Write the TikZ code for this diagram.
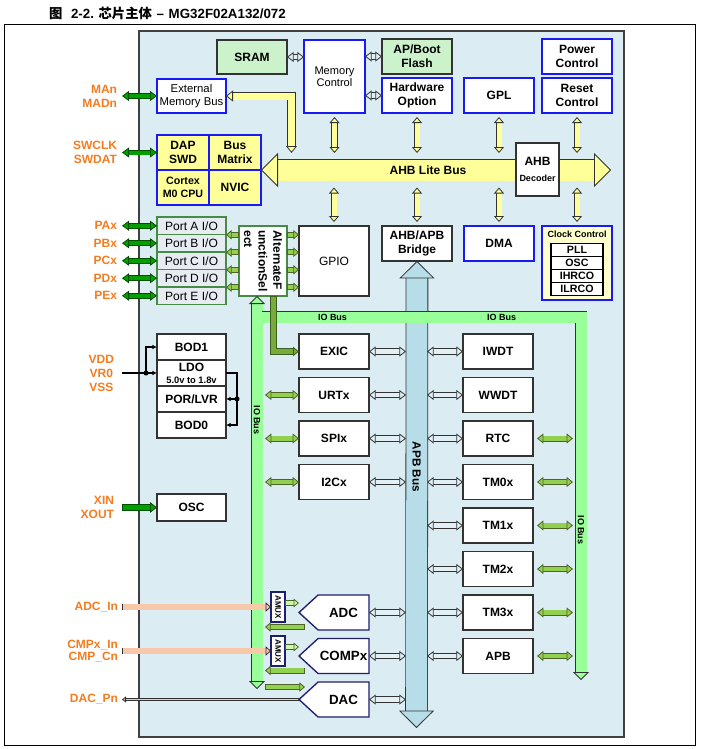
\documentclass[tikz,border=0pt]{standalone}
\usepackage{fontspec}
\setmainfont{Liberation Sans}
\newfontfamily\cjk{Noto Sans CJK SC}
\usepackage{tikz}
\usetikzlibrary{positioning, arrows.meta, calc, shapes.symbols}
\definecolor{bgblue}{RGB}{219,237,243}
\definecolor{bxblue}{RGB}{25,25,245}
\definecolor{memgrn}{RGB}{204,242,204}
\definecolor{ahbyel}{RGB}{255,255,153}
\definecolor{iogrn}{RGB}{153,255,153}
\definecolor{olv}{RGB}{146,208,80}
\definecolor{olvdk}{RGB}{79,98,40}
\definecolor{apbblue}{RGB}{183,221,232}
\definecolor{pinorg}{RGB}{244,124,32}
\definecolor{pingrn}{RGB}{0,160,0}
\definecolor{pingrndk}{RGB}{0,80,0}
\definecolor{portfill}{RGB}{230,236,242}
\definecolor{portgrn}{RGB}{70,140,70}
\definecolor{anavy}{RGB}{30,30,110}
\definecolor{salmon}{RGB}{248,200,170}
\definecolor{clkyel}{RGB}{255,255,204}
\definecolor{holfill}{RGB}{226,240,246}
\definecolor{lnk}{RGB}{50,50,50}
\definecolor{lgn}{RGB}{200,250,170}
\definecolor{exicgrn}{RGB}{120,170,60}
\definecolor{exicdk}{RGB}{60,95,30}

\begin{document}
\begin{tikzpicture}[x=0.75pt, y=-0.75pt,
    every node/.style={inner sep=0pt, outer sep=0pt},
    node distance=6.375pt,
    box/.style={draw=black!80, line width=0.9pt, fill=white, align=center, minimum width=52.5pt, minimum height=26.25pt, font=\fontsize{9}{10.5}\selectfont\bfseries},
    bbox/.style={box, draw=bxblue, line width=1.1pt},
    gbox/.style={box, fill=memgrn},
    ybox/.style={bbox, fill=ahbyel, minimum width=39pt, font=\fontsize{9}{11}\selectfont\bfseries},
    port/.style={box, draw=portgrn, fill=portfill, minimum width=51.75pt, minimum height=13.125pt, font=\fontsize{9}{10}\selectfont},
    pwrbox/.style={box, minimum width=51.75pt, minimum height=19.5pt},
    clkrow/.style={box, draw=black, line width=0.8pt, minimum width=39pt, minimum height=9.75pt, font=\fontsize{8}{9}\selectfont\bfseries},
    anlg/.style={box, draw=anavy, line width=1pt, signal, signal to=west, signal pointer angle=85, font=\fontsize{10}{12}\selectfont\bfseries},
    amux/.style={draw=anavy, line width=0.8pt, fill=white, minimum width=10.5pt, minimum height=22.5pt},
    pin/.style={text=pinorg, align=right, font=\fontsize{9}{10.5}\selectfont\bfseries},
    busfont/.style={font=\fontsize{6.75}{8}\selectfont\bfseries},
    pwr/.style={draw=black, line width=1pt, -{Latex[length=3.5pt, width=3.5pt]}},
    fatd/.style args={#1/#2/#3/#4/#5}{draw=#1, line width=#3, line join=miter,
      arrows={Triangle[length=#4, width=#5, line width=0.6pt, color=#2, fill=#1]-Triangle[length=#4, width=#5, line width=0.6pt, color=#2, fill=#1]},
      preaction={draw=#2, line width=#3+1.2pt, arrows=-, shorten <=#4-0.8pt, shorten >=#4-0.8pt}},
    fats/.style args={#1/#2/#3/#4/#5}{draw=#1, line width=#3, line join=miter, shorten <=0.6pt,
      arrows={-Triangle[length=#4, width=#5, line width=0.6pt, color=#2, fill=#1]},
      preaction={draw=#2, line width=#3+1.2pt, arrows=-, shorten <=0pt, shorten >=#4-0.8pt}},
    yarr/.style={fatd=ahbyel/lnk/3.75pt/4.5pt/7.5pt},
    harr/.style={fatd=holfill/lnk/3.6pt/5pt/7.5pt},
    parr/.style={fatd=pingrn/pingrndk/3pt/5.25pt/7.5pt},
    parr1/.style={fats=pingrn/pingrndk/3.75pt/5.25pt/8pt},
    oarr/.style={fatd=olv/olvdk/3.3pt/4.8pt/7.5pt},
    oarr1/.style={fats=olv/olvdk/3.3pt/4.2pt/7pt},
    larr/.style={fats=lgn/olvdk/3.3pt/4pt/6.5pt},
    sarr/.style={fats=salmon/lnk/3.9pt/4pt/7pt},
    sarrthin/.style={fats=salmon/lnk/1.2pt/3pt/4.5pt},
    xarr/.style={fats=exicgrn/exicdk/3.75pt/4.5pt/7pt},
    emarr/.style={fatd=ahbyel/lnk/5.25pt/5.25pt/8.25pt},
    iobus/.style={fatd=iogrn/lnk/8.25pt/6pt/12pt},
    iobus1/.style={fats=iogrn/lnk/8.25pt/6pt/12pt},
    ahbbus/.style={fatd=ahbyel/lnk/15.75pt/12.75pt/25.5pt},
    apbbus/.style={fatd=apbblue/lnk/15.75pt/13pt/26.25pt},
  ]
  \useasboundingbox (0,0) rectangle (700,749);

  \node[anchor=west, font=\fontsize{10}{12}\selectfont\bfseries] (ttl) at (49,13)
    {{\cjk 图}\hspace{6.5pt}2-2.\hspace{3.5pt}{\cjk 芯片主体}\hspace{3.5pt}–\hspace{3.5pt}MG32F02A132/072};

  \draw[line width=0.75pt] (4,25) rectangle (695,745);
  \draw[fill=bgblue, draw=black!75, line width=0.9pt] (139,31) rectangle (624,737);

  % top row
  \node[gbox, minimum height=25.5pt] (sram) at (252,57) {SRAM};
  \node[bbox, minimum width=45.75pt, minimum height=54.75pt, font=\fontsize{8.3}{8.8}\selectfont] (memctl) at (334.5,76.5) {Memory\\Control};
  \node[gbox] (flash) at (417,56.5) {AP/Boot\\Flash};
  \node[bbox] (hwopt) at (417,95.5) {Hardware\\Option};
  \node[bbox] (gpl) at (499,95.5) {GPL};
  \node[bbox] (pwrctl) at (577,56.5) {Power\\Control};
  \node[bbox] (rstctl) at (577,95.5) {Reset\\Control};
  \node[bbox, minimum width=51.75pt, minimum height=25.5pt, font=\fontsize{8.5}{9.5}\selectfont] (extmem) at (191.5,96) {External\\Memory Bus};

  \node[ybox] (dap) at (183,152.5) {DAP\\SWD};
  \node[ybox, right=0pt of dap] (bmx) {Bus\\Matrix};
  \node[ybox, below=0pt of dap, font=\fontsize{8}{10}\selectfont\bfseries] (m0) {Cortex\\M0 CPU};
  \node[ybox, below=0pt of bmx] (nvic) {NVIC};

  % AHB lite bus
  \coordinate (ahbend) at (611,170);
  \coordinate (ahbN) at (0,153);
  \coordinate (ahbS) at (0,187.5);
  \draw[ahbbus] (bmx.south east) -- (ahbend);
  \node[font=\fontsize{9}{10.5}\selectfont\bfseries] (ahblbl) at (428,170) {AHB Lite Bus};
  \node[box, minimum width=32.25pt, minimum height=39.75pt] (ahbdec) at (537.5,169.5) {AHB\\[1pt]\fontsize{6.75}{8}\selectfont Decoder};

  % second row
  \node[box, minimum height=52.5pt, font=\fontsize{9}{10.5}\selectfont] (gpio) at (334,261) {GPIO};
  \node[box] (bridge) at (417,243.5) {AHB/APB\\Bridge};
  \node[bbox] (dma) at (499,243.5) {DMA};
  \node[bbox, fill=clkyel, minimum height=55.5pt] (clk) at (577,263) {};
  \node[font=\fontsize{6.75}{8}\selectfont\bfseries] (clkttl) at (577,234.5) {Clock Control};
  \node[clkrow] (pll) at (577,249.75) {PLL};
  \node[clkrow, below=0pt of pll] (cosc) {OSC};
  \node[clkrow, below=0pt of cosc] (ihrco) {IHRCO};
  \node[clkrow, below=0pt of ihrco] (ilrco) {ILRCO};

  \foreach \b in {memctl, hwopt, gpl, rstctl}
    \draw[yarr] ([yshift=-3pt]\b.south) -- (\b.south |- ahbN);
  \foreach \b in {gpio, bridge, dma, clk}
    \draw[yarr] (\b.north |- ahbS) -- ([yshift=3pt]\b.north);
  \coordinate (emx) at (291.5,0);
  \draw[emarr] (extmem.east) -- (extmem.east -| emx) -- (emx |- ahbN);

  \draw[harr] (sram.east) -- (sram.east -| memctl.west);
  \draw[harr] (flash.west -| memctl.east) -- (flash.west);
  \draw[harr] (hwopt.west -| memctl.east) -- (hwopt.west);

  % ports and alternate function
  \node[port] (porta) at (191.5,225.75) {Port A I/O};
  \node[port, below=0pt of porta] (portb) {Port B I/O};
  \node[port, below=0pt of portb] (portc) {Port C I/O};
  \node[port, below=0pt of portc] (portd) {Port D I/O};
  \node[port, below=0pt of portd] (porte) {Port E I/O};
  \node[box, draw=portgrn, minimum width=36pt, minimum height=52.5pt,
    label={[rotate=-90, align=left, font=\fontsize{9}{11}\selectfont\bfseries]center:AlternateF\\unctionSel\\ect}] (afs) at (263,261) {};
  \foreach \f in {0.125,0.375,0.625,0.875} {
    \coordinate (af) at ($(afs.north west)!\f!(afs.south west)$);
    \draw[oarr1] (af) -- (af -| porta.east);
    \coordinate (ag) at ($(afs.north east)!\f!(afs.south east)$);
    \draw[oarr1] (ag) -- (ag -| gpio.west);
  }

  % power
  \node[pwrbox] (bod1) at (191.5,347) {BOD1};
  \node[pwrbox, below=0pt of bod1] (ldo) {LDO\\[-1.5pt]\fontsize{7}{8}\selectfont 5.0v to 1.8v};
  \node[pwrbox, below=0pt of ldo] (por) {POR/LVR};
  \node[pwrbox, below=0pt of por] (bod0) {BOD0};
  \node[box, minimum width=51.75pt, minimum height=20.25pt] (osc) at (191.5,507.5) {OSC};

  % APB bus
  \coordinate (apbend) at (416.5,728);
  \draw[apbbus] (bridge.south) -- (apbend);
  \node[font=\fontsize{8.8}{10}\selectfont\bfseries, rotate=-90] (apblbl) at (416.5,467) {APB Bus};

  % peripherals
  \node[box] (exic) at (334,351.5) {EXIC};
  \node[box, below=of exic] (urt) {URTx};
  \node[box, below=of urt] (spi) {SPIx};
  \node[box, below=of spi] (i2c) {I2Cx};
  \node[box] (iwdt) at (498,351.5) {IWDT};
  \node[box, below=of iwdt] (wwdt) {WWDT};
  \node[box, below=of wwdt] (rtc) {RTC};
  \node[box, below=of rtc] (tm0) {TM0x};
  \node[box, below=of tm0] (tm1) {TM1x};
  \node[box, below=of tm1] (tm2) {TM2x};
  \node[box, below=of tm2] (tm3) {TM3x};
  \node[box, below=of tm3] (apbx) {APB};
  \node[anlg, anchor=east] (adc) at (exic.east |- tm3) {ADC};
  \node[anlg, anchor=east] (cmp) at (exic.east |- apbx) {COMPx};
  \node[anlg, anchor=east] (dac) at (369,699.5) {DAC};
  \node[amux, label={[rotate=-90, font=\fontsize{6}{7}\selectfont\bfseries]center:AMUX}] (amuxa) at (278,607) {};
  \node[amux, label={[rotate=-90, font=\fontsize{6}{7}\selectfont\bfseries]center:AMUX}] (amuxc) at (278,651) {};

  \coordinate (apbL) at (406,0);
  \coordinate (apbR) at (427,0);
  \foreach \b in {exic, urt, spi, i2c, adc, cmp, dac}
    \draw[harr] (\b.east) -- (\b.east -| apbL);
  \foreach \b in {iwdt, wwdt, rtc, tm0, tm1, tm2, tm3, apbx}
    \draw[harr] (apbR |- \b.west) -- (\b.west);

  % IO bus
  \coordinate (ioTop) at ($(afs.south)+(-6,0)$);
  \coordinate (ioBot) at (257,689);
  \coordinate (ioTL) at (261.5,317);
  \coordinate (ioTR) at (581,317);
  \coordinate (ioBR) at (581,680);
  \draw[iobus] (ioTop) -- (ioBot);
  \draw[iobus1, shorten <=0pt] (ioTL) -- (ioTR) -- (ioBR);
  \node[busfont] (iolbl1) at (332.5,317) {IO Bus};
  \node[busfont] (iolbl2) at (501.5,317) {IO Bus};
  \node[busfont, rotate=-90] (iolbl3) at (257,420) {IO Bus};
  \node[busfont, rotate=-90] (iolbl4) at (581,530) {IO Bus};

  \coordinate (afsx) at ($(afs.south)+(10.5,0)$);
  \draw[xarr] (afsx) |- (exic.west);

  \coordinate (ioLin) at (265,0);
  \coordinate (ioRin) at (573,0);
  \foreach \b in {urt, spi, i2c}
    \draw[oarr] (ioLin |- \b.west) -- (\b.west);
  \foreach \b in {rtc, tm0, tm1, tm2, tm3, apbx} {
    \coordinate (r) at ([xshift=3pt]\b.east);
    \draw[oarr] (r) -- (r -| ioRin);
  }
  \foreach \m/\b in {amuxa/adc, amuxc/cmp} {
    \coordinate (g) at ([yshift=3pt]\m.east);
    \draw[larr] (g) -- (g -| \b.west);
    \coordinate (h) at ($(\b.west)+(6,14.5)$);
    \draw[oarr1] (h) -- (h -| ioLin);
  }
  \coordinate (k) at ($(dac.west)+(6,-12.5)$);
  \draw[oarr1] (k -| ioLin) -- (k);

  % pins
  \node[pin, left=30pt of extmem] (man) {MAn\\MADn};
  \node[pin, left=30pt of dap] (swd) {SWCLK\\SWDAT};
  \node[pin, left=30pt of porta] (pa) {PAx};
  \node[pin, left=30pt of portb] (pb) {PBx};
  \node[pin, left=30pt of portc] (pc) {PCx};
  \node[pin, left=30pt of portd] (pd) {PDx};
  \node[pin, left=30pt of porte] (pe) {PEx};
  \node[pin, align=center, left=32.25pt of ldo] (vdd) {VDD\\VR0\\VSS};
  \node[pin, left=32.25pt of osc] (xin) {XIN\\XOUT};
  \node[pin, anchor=east] (adcin) at (118,607) {ADC\_In};
  \node[pin, anchor=east, font=\fontsize{9}{9.5}\selectfont\bfseries] (cmpin) at (118,651) {CMPx\_In\\CMP\_Cn};
  \node[pin, anchor=east] (dacpn) at (118,699.5) {DAC\_Pn};

  \draw[parr] ([xshift=3.75pt]man.east) -- (extmem.west);
  \draw[parr] ([xshift=3.75pt]swd.east) -- (dap.west);
  \foreach \p/\q in {pa/porta, pb/portb, pc/portc, pd/portd, pe/porte}
    \draw[parr] ([xshift=3.75pt]\p.east) -- (\q.west);
  \draw[parr1] ([xshift=6pt]xin.east) -- (osc.west);
  \draw[sarr] ([xshift=3pt]adcin.east) -- (amuxa.west);
  \draw[sarr] ([xshift=3pt]cmpin.east) -- (amuxc.west);
  \draw[sarrthin] (dac.west) -- ([xshift=3pt]dacpn.east);

  \coordinate (vdot) at ($(ldo.west)+(-11,0)$);
  \coordinate (rdot) at ($(ldo.east)+(11,26)$);
  \draw[pwr] ([xshift=6pt]vdd.east) -- (ldo.west);
  \draw[pwr] (vdot) |- (bod1.west);
  \draw[pwr] (ldo.east) -| (rdot) |- (bod0.east);
  \draw[pwr] (rdot) -- (por.east);
  \fill (vdot) circle (1.9pt);
  \fill (rdot) circle (1.9pt);
\end{tikzpicture}
\end{document}
